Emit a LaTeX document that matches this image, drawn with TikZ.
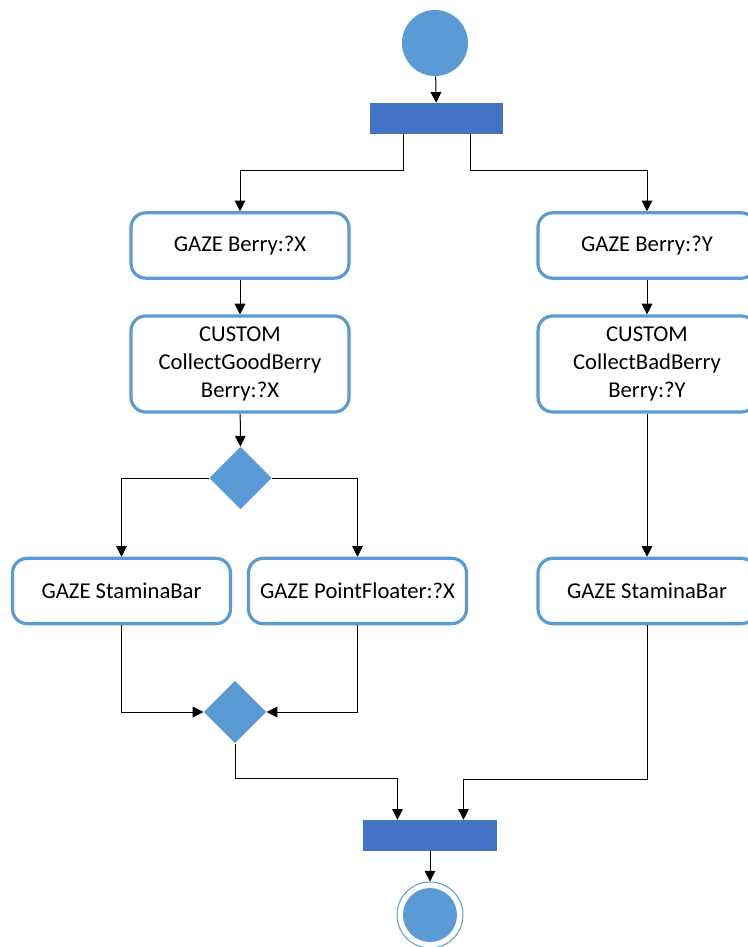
\documentclass[tikz,border=0pt]{standalone}
\usepackage{fontspec}
\setmainfont{Carlito}
\usetikzlibrary{shapes.geometric,arrows.meta}

\definecolor{lightblue}{HTML}{5B9BD5}
\definecolor{darkblue}{HTML}{4472C4}

\tikzset{
    action/.style={rectangle,rounded corners=11pt,draw=lightblue,fill=white,line width=2.4pt,
        minimum width=163.5pt,minimum height=49pt,align=center,
        font=\fontsize{17}{21}\selectfont},
    bar/.style={rectangle,fill=darkblue,minimum height=23.25pt,inner sep=0pt},
    decision/.style={diamond,fill=lightblue,minimum width=47pt,minimum height=47pt,inner sep=0pt},
    flow/.style={-{Triangle[length=8pt,width=8pt]},line width=0.75pt}
}

\begin{document}
\begin{tikzpicture}[x=0.75pt,y=-0.75pt]
                    \useasboundingbox (0,0) rectangle (748,947);

                    % vertices
                    \node[circle,fill=lightblue,minimum size=49.5pt,inner sep=0pt] (start) at (435,43) {};
                    \node[bar,minimum width=99.75pt] (fork) at (436.5,118.5) {};

                    \node[action] (gazeX) at (240,245.5) {GAZE Berry:?X};
                    \node[action] (gazeY) at (647,245.5) {GAZE Berry:?Y};
                    \node[action,minimum height=72pt] (collectX) at (240,364) {CUSTOM\\CollectGoodBerry\\Berry:?X};
                    \node[action,minimum height=72pt] (collectY) at (647,364) {CUSTOM\\CollectBadBerry\\Berry:?Y};

                    \node[decision] (split) at (240.5,478) {};
                    \node[action] (staminaX) at (121.5,591) {GAZE StaminaBar};
                    \node[action] (floater) at (357.5,591) {GAZE PointFloater:?X};
                    \node[action] (staminaY) at (647,591) {GAZE StaminaBar};
                    \node[decision] (merge) at (235,712) {};

                    \node[bar,minimum width=100.5pt] (join) at (430,835.5) {};
                    \node[circle,draw=lightblue,line width=0.75pt,fill=white,minimum size=49.5pt,inner sep=0pt] (stop) at (430,915) {};
                    \node[circle,fill=lightblue,minimum size=40.5pt,inner sep=0pt] (stopdot) at (stop) {};

                    % edges
                    \draw[flow] (start) -- (fork);
                    \draw[flow] ([xshift=-24.75pt]fork.south) -- ++(0,36) -| (gazeX.north);
                    \draw[flow] ([xshift=25.25pt]fork.south) -- ++(0,36) -| (gazeY.north);
                    \draw[flow] (gazeX) -- (collectX);
                    \draw[flow] (gazeY) -- (collectY);
                    \draw[flow] (collectX) -- (split);
                    \draw[flow] (collectY) -- (staminaY);
                    \draw[flow] (split.west) -| (staminaX.north);
                    \draw[flow] (split.east) -| (floater.north);
                    \draw[flow] (staminaX.south) |- (merge.west);
                    \draw[flow] (floater.south) |- (merge.east);
                    \draw[flow] (merge.south) -- ++(0,35) -| ([xshift=-24.4pt]join.north);
                    \draw[flow] (staminaY.south) -- ++(0,154) -| ([xshift=25.1pt]join.north);
                    \draw[flow] (join) -- (stop);
                \end{tikzpicture}
\end{document}
